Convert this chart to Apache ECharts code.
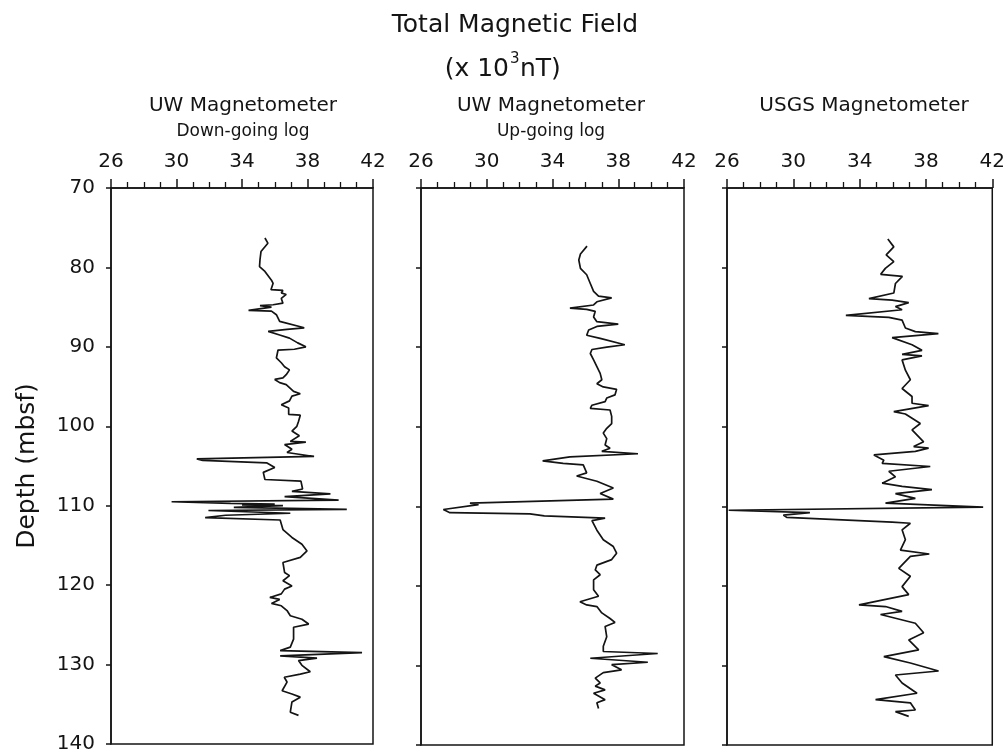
<!DOCTYPE html>
<html>
<head>
<meta charset="utf-8">
<script src="https://cdn.jsdelivr.net/npm/echarts@6/dist/echarts.min.js"></script>
<style>
  html, body { margin: 0; padding: 0; background: #fff; }
  #chart { width: 1008px; height: 754px; }
</style>
</head>
<body>
<div id="chart"></div>
<script>
// ---- data ----
const xTicks = [26, 30, 34, 38, 42];
const depthTicks = [70, 80, 90, 100, 110, 120, 130, 140];
const panelTitles = ['UW Magnetometer', 'UW Magnetometer', 'USGS Magnetometer'];
const panelSubtitles = ['Down-going log', 'Up-going log', ''];

// Panel 1: UW magnetometer, down-going log (depth mbsf, field x10^3 nT)
const depthDown = [76.3,76.95,78.0,79.0,79.9,80.5,81.6,82.0,82.8,82.9,83.2,83.4,83.9,84.5,84.7,84.8,85.0,85.4,85.5,85.95,86.8,87.6,87.8,88.05,88.5,88.9,89.5,90.0,90.3,90.4,91.4,92.0,92.5,92.9,93.5,93.9,94.1,94.5,94.75,95.6,95.9,96.2,96.8,97.3,97.7,98.5,98.6,99.4,100.0,100.6,101.2,101.9,102.0,102.3,102.9,103.3,103.8,104.1,104.3,104.6,105.2,105.8,106.7,106.9,107.9,108.2,108.5,108.86,109.3,109.5,109.7,109.8,109.9,110.0,110.2,110.45,110.6,110.95,111.2,111.5,111.8,113.0,114.0,114.85,115.7,116.5,117.15,118.4,118.8,119.45,120.1,120.5,121.1,121.55,121.8,122.3,122.6,123.2,123.85,124.3,124.9,125.3,126.8,127.8,128.25,128.5,128.9,129.2,129.5,130.1,130.9,131.2,131.6,132.2,133.3,133.7,134.1,134.7,136.0,136.4];
const fieldDown = [35.4,35.58,35.16,35.1,35.07,35.4,35.8,35.9,35.77,36.5,36.4,36.7,36.4,36.5,35.9,35.1,35.8,34.4,35.8,36.1,36.3,37.8,36.75,35.6,36.3,36.9,37.4,37.9,37.2,36.2,36.1,36.4,36.6,36.9,36.7,36.5,36.0,36.3,36.7,37.15,37.56,37.05,36.9,36.4,36.85,36.85,37.56,37.45,37.35,37.05,37.5,36.95,37.9,36.6,37.05,36.75,38.4,31.24,31.6,35.5,36.0,35.3,35.4,37.6,37.7,37.05,39.4,36.6,39.9,29.7,33.3,36.0,34.0,36.5,33.5,40.4,31.95,36.95,33.0,31.75,36.33,36.5,37.05,37.66,37.97,37.56,36.5,36.6,36.9,36.5,37.05,36.6,36.4,35.7,36.3,35.8,36.4,36.75,36.95,37.66,38.07,37.15,37.15,36.95,36.33,41.33,36.33,38.58,37.45,37.66,38.17,37.56,36.58,36.75,36.45,37.05,37.56,37.05,36.95,37.45];

// Panel 2: UW magnetometer, up-going log
const depthUp = [77.3,78.3,79.05,80.1,80.9,82.0,83.0,83.6,83.8,84.3,84.7,85.1,85.25,85.5,86.2,86.8,87.1,87.4,87.85,88.5,88.9,89.7,90.0,90.3,90.8,91.6,92.45,93.3,94.1,94.6,95.0,95.3,96.0,96.4,96.85,97.3,97.7,97.9,98.7,99.6,100.2,100.8,101.5,102.3,102.7,103.1,103.4,103.8,104.3,104.6,104.8,105.8,106.2,106.85,107.7,108.4,109.1,109.6,109.8,110.4,110.8,110.95,111.2,111.5,111.8,113.0,114.2,115.06,115.9,116.7,117.4,118.0,118.6,119.25,120.5,121.3,122.0,122.4,122.6,123.4,124.1,124.6,125.1,126.4,127.6,128.25,128.5,129.1,129.6,129.9,130.55,130.9,131.6,132.2,132.6,133.07,133.5,134.3,134.7,135.4];
const fieldUp = [36.1,35.7,35.6,35.7,36.08,36.3,36.5,36.8,37.6,36.7,36.5,35.06,36.08,36.6,36.5,36.7,38.0,36.7,36.2,36.08,36.9,38.4,37.3,36.4,36.3,36.5,36.7,36.9,37.0,36.7,37.09,37.9,37.8,37.3,37.2,36.4,36.3,37.5,37.6,37.6,37.3,37.09,37.3,37.2,37.5,37.0,39.2,35.06,33.4,34.65,35.87,36.08,35.47,36.7,37.7,36.9,37.7,28.98,29.5,27.36,27.76,32.63,33.5,37.2,36.4,36.7,37.09,37.7,37.9,37.6,36.7,36.6,36.9,36.5,36.5,36.8,35.67,36.08,36.7,37.0,37.5,37.8,37.2,37.3,37.09,37.09,40.4,36.3,39.8,37.6,38.2,37.09,36.6,36.9,36.6,37.2,36.5,37.2,36.7,36.8];

// Panel 3: USGS magnetometer
const depthUSGS = [76.4,77.4,78.4,79.25,80.1,80.85,81.1,82.0,83.2,83.9,84.1,84.4,84.9,85.3,86.0,86.25,86.6,87.6,88.05,88.3,88.8,89.7,90.4,90.9,91.1,91.6,92.9,94.1,95.2,96.2,97.05,97.35,98.1,98.4,99.6,100.4,101.9,102.5,102.7,103.1,103.55,104.2,104.6,105.0,105.6,106.3,107.1,107.5,107.9,108.4,109.0,109.6,110.1,110.5,110.8,111.1,111.4,112.0,112.13,112.96,114.2,115.5,116.0,116.3,117.8,118.8,120.1,121.1,122.4,122.6,123.2,123.6,124.7,125.9,126.8,128.05,128.9,129.7,130.7,131.2,132.2,133.5,134.3,134.7,135.6,135.8,136.4];
const fieldUSGS = [35.7,36.06,35.6,36.06,35.55,35.27,36.58,36.16,36.06,34.56,35.96,36.96,36.16,36.56,33.17,35.76,36.56,36.76,37.36,38.75,35.96,37.16,37.76,36.56,37.76,36.56,36.76,37.06,36.56,37.16,37.16,38.16,36.06,36.76,37.66,37.16,37.86,37.26,38.16,37.36,34.86,35.46,35.36,38.26,35.76,36.16,35.36,36.56,38.36,36.16,37.36,35.56,41.45,26.1,31.0,29.4,29.6,35.96,37.06,36.56,36.76,36.46,38.2,37.06,36.36,37.06,36.56,36.96,33.96,35.56,36.56,35.26,37.36,37.86,36.96,37.56,35.46,37.06,38.76,36.16,36.56,37.46,34.96,37.06,37.36,36.16,36.96];

// ---- layout ----
const FONT = 'DejaVu Sans';
const INK = '#141414';
const panels = [
  { left: 111, width: 262, depth: depthDown, field: fieldDown, cx: 243 },
  { left: 421, width: 263, depth: depthUp, field: fieldUp, cx: 551 },
  { left: 727, width: 267, depth: depthUSGS, field: fieldUSGS, cx: 864 }
];
const TOP = 188, HEIGHT = 557;

const grids = [], xAxes = [], yAxes = [], series = [];
panels.forEach((p, i) => {
  grids.push({ left: p.left, width: p.width, top: TOP, height: HEIGHT, show: true,
    borderColor: INK, borderWidth: 1.5, backgroundColor: 'transparent', containLabel: false });
  xAxes.push({
    type: 'value', gridIndex: i, position: 'top',
    min: xTicks[0], max: xTicks[xTicks.length - 1], interval: xTicks[1] - xTicks[0],
    axisLine: { show: true, lineStyle: { color: INK, width: 1.5 } },
    axisTick: { show: true, length: 9, lineStyle: { color: INK, width: 1.5 } },
    minorTick: { show: true, splitNumber: 4, length: 6, lineStyle: { color: INK, width: 1.3 } },
    splitLine: { show: false },
    axisLabel: { show: true, fontSize: 20, color: INK, fontFamily: FONT, margin: 16,
      showMinLabel: true, showMaxLabel: true }
  });
  yAxes.push({
    type: 'value', gridIndex: i, inverse: true,
    min: depthTicks[0], max: depthTicks[depthTicks.length - 1], interval: depthTicks[1] - depthTicks[0],
    axisLine: { show: true, lineStyle: { color: INK, width: 1.5 } },
    axisTick: { show: true, length: 5, lineStyle: { color: INK, width: 1.5 } },
    splitLine: { show: false },
    axisLabel: { show: i === 0, fontSize: 20, color: INK, fontFamily: FONT, margin: 16 },
    name: i === 0 ? 'Depth (mbsf)' : '',
    nameLocation: 'middle', nameGap: 71,
    nameTextStyle: { fontSize: 25, color: INK, fontFamily: FONT }
  });
  series.push({
    type: 'line', xAxisIndex: i, yAxisIndex: i,
    data: p.depth.map((d, k) => [p.field[k], d]),
    showSymbol: false, symbol: 'none', smooth: false,
    lineStyle: { color: INK, width: 1.7 },
    animation: false
  });
});

const graphics = [
  { type: 'text', x: 515, y: 25, style: { text: 'Total Magnetic Field', fontSize: 25, fontFamily: FONT, fill: INK, textAlign: 'center', textVerticalAlign: 'middle' } },
  { type: 'text', x: 509, y: 69, style: { text: '(x 10', fontSize: 25, fontFamily: FONT, fill: INK, textAlign: 'right', textVerticalAlign: 'middle' } },
  { type: 'text', x: 510, y: 59, style: { text: '3', fontSize: 15, fontFamily: FONT, fill: INK, textAlign: 'left', textVerticalAlign: 'middle' } },
  { type: 'text', x: 520, y: 69, style: { text: 'nT)', fontSize: 25, fontFamily: FONT, fill: INK, textAlign: 'left', textVerticalAlign: 'middle' } }
];
panels.forEach((p, i) => {
  graphics.push({ type: 'text', x: p.cx, y: 106, style: { text: panelTitles[i], fontSize: 20, fontFamily: FONT, fill: INK, textAlign: 'center', textVerticalAlign: 'middle' } });
  if (panelSubtitles[i]) {
    graphics.push({ type: 'text', x: p.cx, y: 132, style: { text: panelSubtitles[i], fontSize: 17, fontFamily: FONT, fill: INK, textAlign: 'center', textVerticalAlign: 'middle' } });
  }
});

const chart = echarts.init(document.getElementById('chart'));
chart.setOption({
  animation: false,
  backgroundColor: '#ffffff',
  grid: grids,
  xAxis: xAxes,
  yAxis: yAxes,
  series: series,
  graphic: graphics
});
</script>
</body>
</html>
